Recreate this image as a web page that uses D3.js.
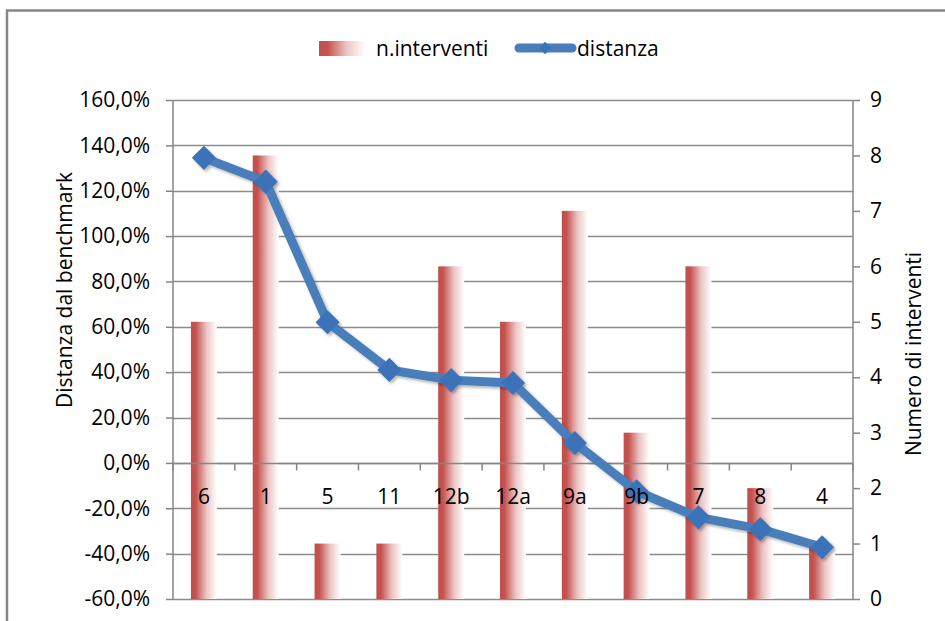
<!DOCTYPE html>
<html>
<head>
<meta charset="utf-8">
<script src="https://cdn.jsdelivr.net/npm/d3@7"></script>
<style>
  body { margin: 0; background: #fff; }
  text { font-family: "Open Sans", "Liberation Sans", sans-serif; fill: #000; }
</style>
</head>
<body>
<div id="chart"></div>
<script>
var categories = ["6", "1", "5", "11", "12b", "12a", "9a", "9b", "7", "8", "4"];
var interventi = [5, 8, 1, 1, 6, 5, 7, 3, 6, 2, 1];
var distanza = [1.345, 1.24, 0.62, 0.41, 0.365, 0.352, 0.088, -0.125, -0.24, -0.292, -0.372];
var leftTicks = [-0.6, -0.4, -0.2, 0, 0.2, 0.4, 0.6, 0.8, 1.0, 1.2, 1.4, 1.6];
var rightTicks = [0, 1, 2, 3, 4, 5, 6, 7, 8, 9];

(function() {
    var width = 945,
        height = 621;

    var plot = { left: 173, right: 853, top: 100, bottom: 599 };
    var fs = "21px";

    var svg = d3.select("#chart")
        .append("svg")
        .attr("width", width)
        .attr("height", height);

    var defs = svg.append("defs");

    var grad = defs.append("linearGradient")
        .attr("id", "barGrad")
        .attr("x1", "0%").attr("x2", "100%")
        .attr("y1", "0%").attr("y2", "0%");
    grad.append("stop").attr("offset", "0%").attr("stop-color", "#c0504d");
    grad.append("stop").attr("offset", "18%").attr("stop-color", "#c4524f");
    grad.append("stop").attr("offset", "60%").attr("stop-color", "#ecc4c3");
    grad.append("stop").attr("offset", "100%").attr("stop-color", "#ffffff");

    var shadow = defs.append("filter")
        .attr("id", "shadow")
        .attr("x", "-20%").attr("y", "-20%")
        .attr("width", "140%").attr("height", "140%");
    shadow.append("feDropShadow")
        .attr("dx", 2).attr("dy", 2)
        .attr("stdDeviation", 1.5)
        .attr("flood-color", "#000")
        .attr("flood-opacity", 0.3);

    // outer border
    svg.append("rect")
        .attr("x", 7).attr("y", 10.5)
        .attr("width", 960).attr("height", 630)
        .attr("fill", "none")
        .attr("stroke", "#868686")
        .attr("stroke-width", 2.5);

    var x = d3.scaleBand()
        .domain(categories)
        .range([plot.left, plot.right]);

    var yLeft = d3.scaleLinear()
        .domain([-0.6, 1.6])
        .range([plot.bottom, plot.top]);

    var yRight = d3.scaleLinear()
        .domain([0, 9])
        .range([plot.bottom, plot.top]);

    var fmt = function(d) {
        return (d * 100).toFixed(1).replace(".", ",") + "%";
    };

    // gridlines
    svg.append("g")
        .selectAll("line")
        .data(leftTicks)
        .enter().append("line")
        .attr("x1", plot.left)
        .attr("x2", plot.right)
        .attr("y1", function(d) { return Math.round(yLeft(d)) + 0.5; })
        .attr("y2", function(d) { return Math.round(yLeft(d)) + 0.5; })
        .attr("stroke", "#8c8c8c")
        .attr("stroke-width", 1.5);

    // bars
    var bw = 26;
    svg.append("g")
        .selectAll("rect")
        .data(interventi)
        .enter().append("rect")
        .attr("x", function(d, i) { return x(categories[i]) + x.bandwidth() / 2 - bw / 2; })
        .attr("y", function(d) { return yRight(d); })
        .attr("width", bw)
        .attr("height", function(d) { return yRight(0) - yRight(d); })
        .attr("fill", "url(#barGrad)");

    // left axis
    var leftAxis = d3.axisLeft(yLeft)
        .tickValues(leftTicks)
        .tickFormat(fmt)
        .tickSize(7)
        .tickPadding(16);
    var gl = svg.append("g")
        .attr("transform", "translate(" + plot.left + ",0)")
        .call(leftAxis);
    gl.selectAll("line, path").attr("stroke", "#868686").attr("stroke-width", 1.5);
    gl.select(".domain").attr("d", "M0," + plot.top + "V" + plot.bottom);
    gl.selectAll("text").style("font-size", fs).attr("fill", "#000");

    // right axis
    var rightAxis = d3.axisRight(yRight)
        .tickValues(rightTicks)
        .tickFormat(d3.format("d"))
        .tickSize(7)
        .tickPadding(10);
    var gr = svg.append("g")
        .attr("transform", "translate(" + plot.right + ",0)")
        .call(rightAxis);
    gr.selectAll("line, path").attr("stroke", "#868686").attr("stroke-width", 1.5);
    gr.select(".domain").attr("d", "M0," + plot.top + "V" + plot.bottom);
    gr.selectAll("text").style("font-size", fs).attr("fill", "#000");

    // category axis at 0%
    var y0 = Math.round(yLeft(0)) + 0.5;
    var gx = svg.append("g");
    gx.append("line")
        .attr("x1", plot.left).attr("x2", plot.right)
        .attr("y1", y0).attr("y2", y0)
        .attr("stroke", "#868686").attr("stroke-width", 1.5);
    gx.selectAll(".tk")
        .data(categories.concat(["end"]))
        .enter().append("line")
        .attr("class", "tk")
        .attr("x1", function(d, i) { return plot.left + i * x.step(); })
        .attr("x2", function(d, i) { return plot.left + i * x.step(); })
        .attr("y1", y0).attr("y2", y0 + 7)
        .attr("stroke", "#868686").attr("stroke-width", 1.5);

    // line series
    var line = d3.line()
        .x(function(d, i) { return x(categories[i]) + x.bandwidth() / 2; })
        .y(function(d) { return yLeft(d); });

    var gLine = svg.append("g").attr("filter", "url(#shadow)");
    gLine.append("path")
        .datum(distanza)
        .attr("d", line)
        .attr("fill", "none")
        .attr("stroke", "#4a7ebb")
        .attr("stroke-width", 9)
        .attr("stroke-linejoin", "round");

    gLine.selectAll(".pt")
        .data(distanza)
        .enter().append("path")
        .attr("class", "pt")
        .attr("d", d3.symbol().type(d3.symbolSquare).size(290))
        .attr("transform", function(d, i) {
            return "translate(" + (x(categories[i]) + x.bandwidth() / 2) + "," + yLeft(d) + ") rotate(45)";
        })
        .attr("fill", "#3b72b8");

    // category labels (drawn over the bars)
    svg.append("g")
        .selectAll("text")
        .data(categories)
        .enter().append("text")
        .attr("x", function(d) { return x(d) + x.bandwidth() / 2; })
        .attr("y", y0 + 40)
        .attr("text-anchor", "middle")
        .style("font-size", fs)
        .text(function(d) { return d; });

    // axis titles
    svg.append("text")
        .attr("transform", "translate(72,290) rotate(-90)")
        .attr("text-anchor", "middle")
        .style("font-size", fs)
        .text("Distanza dal benchmark");

    svg.append("text")
        .attr("transform", "translate(921,354) rotate(-90)")
        .attr("text-anchor", "middle")
        .style("font-size", fs)
        .text("Numero di interventi");

    // legend
    var lg = svg.append("g");
    lg.append("rect")
        .attr("x", 319).attr("y", 41)
        .attr("width", 46).attr("height", 15)
        .attr("fill", "url(#barGrad)");
    lg.append("text")
        .attr("x", 376).attr("y", 56)
        .style("font-size", fs)
        .text("n.interventi");
    lg.append("line")
        .attr("x1", 519).attr("x2", 572)
        .attr("y1", 48).attr("y2", 48)
        .attr("stroke", "#4a7ebb")
        .attr("stroke-width", 9)
        .attr("stroke-linecap", "round");
    lg.append("path")
        .attr("d", d3.symbol().type(d3.symbolSquare).size(80))
        .attr("transform", "translate(545,48) rotate(45)")
        .attr("fill", "#3b72b8");
    lg.append("text")
        .attr("x", 577).attr("y", 56)
        .style("font-size", fs)
        .text("distanza");
})();
</script>
</body>
</html>
